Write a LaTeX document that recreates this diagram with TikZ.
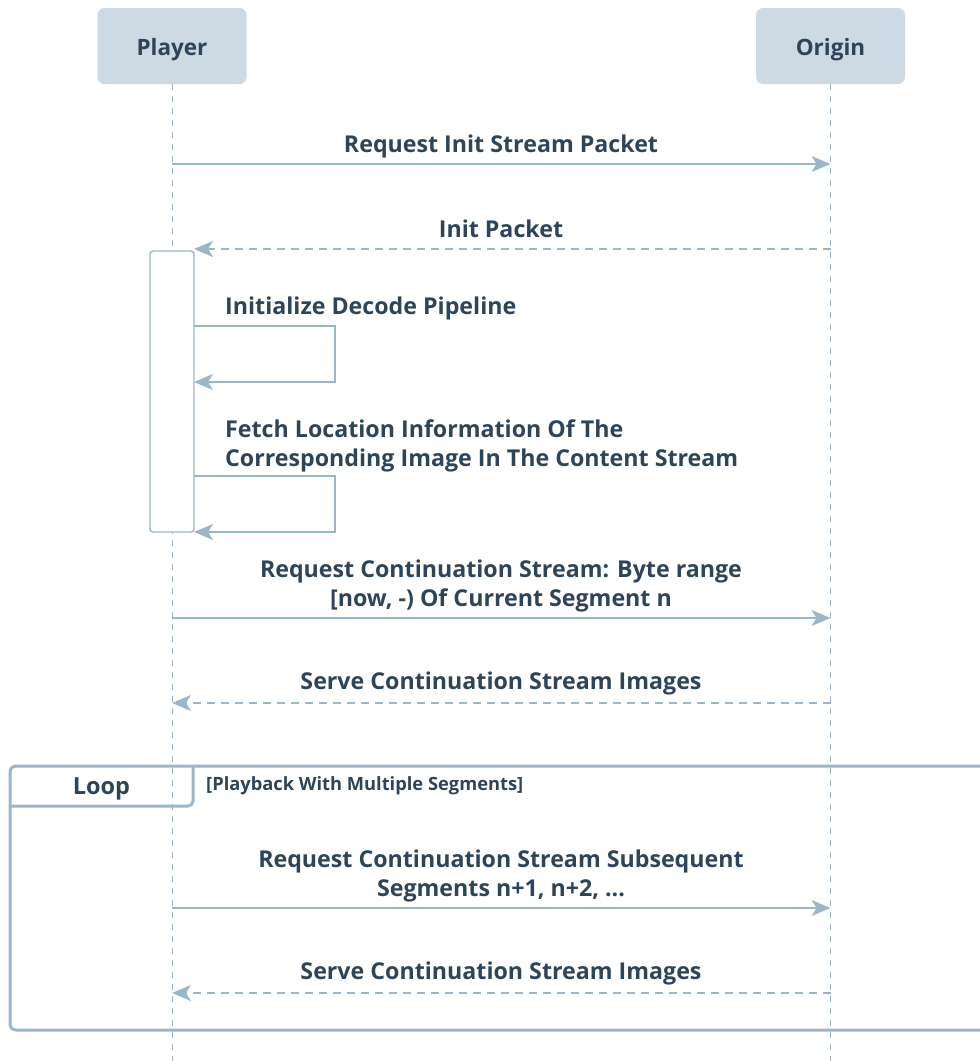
\documentclass[tikz,border=0pt]{standalone}
\usepackage{fontspec}
\setmainfont{Open Sans}
\usetikzlibrary{arrows.meta}
\definecolor{actorfill}{HTML}{CDD9E3}
\definecolor{inkblue}{HTML}{2E4459}
\definecolor{wire}{HTML}{9AB6C7}
\tikzset{
  actor/.style={fill=actorfill, rounded corners=7pt, minimum width=149pt, minimum height=76pt, inner sep=0pt},
  actorname/.style={font=\bfseries\fontsize{22.5}{26}\selectfont, text=inkblue, inner sep=0pt, anchor=base},
  lifeline/.style={draw=wire, line width=1pt, dash pattern=on 6pt off 6pt},
  msg/.style={draw=wire, line width=1.4pt, -{Stealth[length=19pt,width=16pt,inset=5pt]}},
  reply/.style={msg, dash pattern=on 8pt off 6pt},
  msglabel/.style={font=\bfseries\fontsize{23.2}{29}\selectfont, text=inkblue, align=center, inner sep=0pt},
  selflabel/.style={msglabel, align=left, anchor=base west},
  activation/.style={draw=wire, line width=1.4pt, fill=white, rounded corners=3pt},
  frame/.style={draw=wire, line width=3pt, rounded corners=6pt},
  tablabel/.style={font=\bfseries\fontsize{23.5}{26}\selectfont, text=inkblue},
  guard/.style={font=\bfseries\fontsize{18.3}{20}\selectfont, text=inkblue, anchor=base west, inner sep=0pt}
}
\begin{document}
\begin{tikzpicture}[x=1pt,y=-1pt]
\useasboundingbox (0,0) rectangle (980,1061);

% participants and lifelines
\node[actor] (player) at (172,46) {};
\node[actorname] (playerName) at (172,55) {Player};
\node[actor] (origin) at (830.5,46) {};
\node[actorname] (originName) at (830.5,55) {Origin};
\coordinate (playerEnd) at (172,1061);
\coordinate (originEnd) at (830.5,1061);
\draw[lifeline] (player.south) -- (playerEnd);
\draw[lifeline] (origin.south) -- (originEnd);

% activation of the player
\node[activation, minimum width=44pt, minimum height=281pt, inner sep=0pt] (act) at (172,391.5) {};

% init request / reply
\coordinate (p1) at (172,164); \coordinate (o1) at (830.5,164);
\draw[msg] (p1) -- (o1);
\node[msglabel, anchor=base] (l1) at (501,152) {Request Init Stream Packet};

\coordinate (o2) at (830.5,249); \coordinate (a2) at (194,249);
\draw[reply] (o2) -- (a2);
\node[msglabel, anchor=base] (l2) at (501,237) {Init Packet};

% self calls
\coordinate (s1a) at (194,326); \coordinate (s1b) at (335,326);
\coordinate (s1c) at (335,382); \coordinate (s1d) at (194,382);
\draw[msg] (s1a) -- (s1b) -- (s1c) -- (s1d);
\node[selflabel] (l3) at (225,314) {Initialize Decode Pipeline};

\coordinate (s2a) at (194,476); \coordinate (s2b) at (335,476);
\coordinate (s2c) at (335,532); \coordinate (s2d) at (194,532);
\draw[msg] (s2a) -- (s2b) -- (s2c) -- (s2d);
\node[selflabel] (l4) at (225,437) {Fetch Location Information Of The};
\node[selflabel] (l4b) at (225,466) {Corresponding Image In The Content Stream};

% continuation stream
\coordinate (p3) at (172,618); \coordinate (o3) at (830.5,618);
\draw[msg] (p3) -- (o3);
\node[msglabel, anchor=base] (l5) at (501,577) {Request Continuation Stream: Byte range};
\node[msglabel, anchor=base] (l5b) at (501,606) {[now, -) Of Current Segment n};

\coordinate (o4) at (830.5,703); \coordinate (p4) at (172,703);
\draw[reply] (o4) -- (p4);
\node[msglabel, anchor=base] (l6) at (501,689) {Serve Continuation Stream Images};

% loop fragment
\draw[frame] (1000,766) -- (10,766) -- (10,1030) -- (1000,1030);
\draw[wire, line width=3pt, rounded corners=5pt] (10,806) -- (193,806) -- (193,766);
\node[tablabel] (loop) at (101.5,789) {Loop};
\node[guard] (cond) at (206,790) {[Playback With Multiple Segments]};

\coordinate (p5) at (172,908); \coordinate (o5) at (830.5,908);
\draw[msg] (p5) -- (o5);
\node[msglabel, anchor=base] (l7) at (501,867) {Request Continuation Stream Subsequent};
\node[msglabel, anchor=base] (l7b) at (501,896) {Segments n+1, n+2, ...};

\coordinate (o6) at (830.5,993); \coordinate (p6) at (172,993);
\draw[reply] (o6) -- (p6);
\node[msglabel, anchor=base] (l8) at (501,979) {Serve Continuation Stream Images};
\end{tikzpicture}
\end{document}
